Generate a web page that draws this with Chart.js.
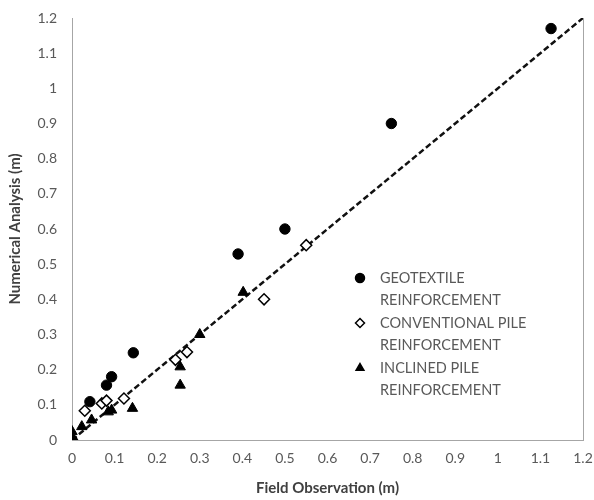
<!DOCTYPE html>
<html>
<head>
<meta charset="utf-8">
<script src="https://cdn.jsdelivr.net/npm/chart.js@4.4.1/dist/chart.umd.min.js"></script>
<style>
  html, body { margin: 0; padding: 0; background: #fff; }
  #wrap { width: 594px; height: 500px; position: relative; }
</style>
</head>
<body>
<div id="wrap"><canvas id="chart"></canvas></div>
<script>
// Field observation vs numerical analysis (m)
const geoX  = [0, 0.042, 0.081, 0.093, 0.144, 0.39, 0.50, 0.75, 1.125];
const geoY  = [0, 0.109, 0.156, 0.18, 0.248, 0.529, 0.60, 0.90, 1.17];

const convX = [0, 0.03, 0.07, 0.081, 0.122, 0.243, 0.27, 0.451, 0.55];
const convY = [0, 0.083, 0.104, 0.112, 0.118, 0.228, 0.25, 0.40, 0.554];

const inclX = [0, 0, 0.023, 0.046, 0.085, 0.093, 0.142, 0.254, 0.254, 0.30, 0.402];
const inclY = [0, 0.024, 0.038, 0.057, 0.08, 0.085, 0.09, 0.156, 0.208, 0.30, 0.42];

const lineX = [0, 1.2];
const lineY = [0, 1.2];

const tickValues = [0, 0.1, 0.2, 0.3, 0.4, 0.5, 0.6, 0.7, 0.8, 0.9, 1, 1.1, 1.2];

const legendItems = [
    { style: 'circle', fill: '#000', lines: ['GEOTEXTILE', 'REINFORCEMENT'] },
    { style: 'rectRot', fill: '#fff', lines: ['CONVENTIONAL PILE', 'REINFORCEMENT'] },
    { style: 'triangle', fill: '#000', lines: ['INCLINED PILE', 'REINFORCEMENT'] }
];

const toPoints = (xs, ys) => xs.map((x, i) => ({ x: x, y: ys[i] }));

const FONT = 'Lato, "Open Sans", sans-serif';

// right border of the plot area + wrapped legend
const framePlugin = {
    id: 'frame',
    afterDraw(chart) {
        const ctx = chart.ctx;
        const a = chart.chartArea;
        ctx.save();
        ctx.strokeStyle = '#a6a6a6';
        ctx.lineWidth = 1;
        ctx.beginPath();
        ctx.moveTo(a.right + 0.5, a.top);
        ctx.lineTo(a.right + 0.5, a.bottom);
        ctx.stroke();

        ctx.font = '14.5px ' + FONT;
        ctx.fillStyle = '#595959';
        ctx.textBaseline = 'middle';
        let y = 278;
        legendItems.forEach(item => {
            ctx.save();
            ctx.fillStyle = item.fill;
            ctx.strokeStyle = '#000';
            ctx.lineWidth = 1.5;
            Chart.helpers.drawPoint(ctx, { pointStyle: item.style, radius: 4.5, borderWidth: 1.5 }, 360, y);
            ctx.restore();
            item.lines.forEach((t, i) => ctx.fillText(t, 380, y + i * 22));
            y += 45;
        });
        ctx.restore();
    }
};

const ctx = document.getElementById('chart').getContext('2d');
new Chart(ctx, {
    type: 'scatter',
    data: {
        datasets: [
            {
                label: 'GEOTEXTILE REINFORCEMENT',
                data: toPoints(geoX, geoY),
                pointStyle: 'circle',
                pointRadius: 5.2,
                backgroundColor: '#000',
                borderColor: '#000'
            },
            {
                label: 'CONVENTIONAL PILE REINFORCEMENT',
                data: toPoints(convX, convY),
                pointStyle: 'rectRot',
                pointRadius: 5.5,
                borderWidth: 1.5,
                backgroundColor: '#fff',
                borderColor: '#000'
            },
            {
                label: 'INCLINED PILE REINFORCEMENT',
                data: toPoints(inclX, inclY),
                pointStyle: 'triangle',
                pointRadius: 6,
                backgroundColor: '#000',
                borderColor: '#000'
            },
            {
                label: 'line',
                type: 'line',
                data: toPoints(lineX, lineY),
                borderColor: '#111',
                borderWidth: 2.5,
                borderDash: [6, 3],
                pointRadius: 0,
                fill: false,
                order: 5
            }
        ]
    },
    options: {
        responsive: true,
        maintainAspectRatio: false,
        animation: false,
        layout: { padding: { top: 18, right: 11, left: 0, bottom: 0 } },
        plugins: {
            legend: { display: false },
            tooltip: { enabled: false }
        },
        scales: {
            x: {
                type: 'linear',
                min: 0, max: 1.2,
                afterBuildTicks: s => { s.ticks = tickValues.map(v => ({ value: v })); },
                afterFit: s => { s.height = 60; s.paddingRight = 0; s.paddingLeft = 0; },
                grid: { display: false, drawTicks: false },
                border: { display: true, color: '#a6a6a6' },
                ticks: {
                    color: '#595959', padding: 10, maxRotation: 0, autoSkip: false,
                    font: { family: FONT, size: 14 },
                    callback: v => String(Math.round(v * 10) / 10)
                },
                title: {
                    display: true, text: 'Field Observation (m)', color: '#404040',
                    font: { family: FONT, size: 15, weight: 'bold' },
                    padding: { top: 4, bottom: 3 }
                }
            },
            y: {
                type: 'linear',
                min: 0, max: 1.2,
                afterBuildTicks: s => { s.ticks = tickValues.map(v => ({ value: v })); },
                afterFit: s => { s.width = 72; s.paddingTop = 0; s.paddingBottom = 0; },
                grid: { display: false, drawTicks: false },
                border: { display: true, color: '#a6a6a6' },
                ticks: {
                    color: '#595959', padding: 15, autoSkip: false,
                    font: { family: FONT, size: 14 },
                    callback: v => String(Math.round(v * 10) / 10)
                },
                title: {
                    display: true, text: 'Numerical Analysis (m)', color: '#404040',
                    font: { family: FONT, size: 15, weight: 'bold' },
                    padding: { top: 6, bottom: 4 }
                }
            }
        }
    },
    plugins: [framePlugin]
});
</script>
</body>
</html>
